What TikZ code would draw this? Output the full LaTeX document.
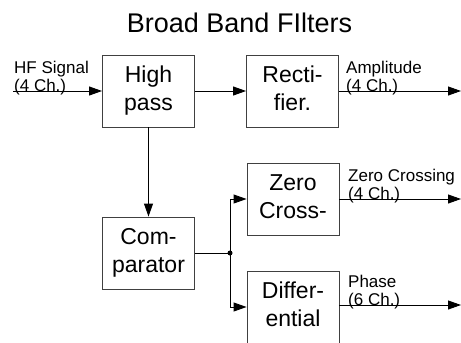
\documentclass[tikz,border=0pt]{standalone}
\usepackage{fontspec}
\setmainfont{Liberation Sans}
\usetikzlibrary{arrows.meta}
\begin{document}
\begin{tikzpicture}[x=1pt,y=-1pt,
  conn/.style={line width=0.9pt,draw=black},
  arr/.style={conn,-{Triangle[length=13pt,width=9pt]}},
  blockbox/.style={draw=black!75,line width=0.9pt,minimum width=92pt,minimum height=72pt,inner sep=0pt,align=center,font=\fontsize{23}{28}\selectfont},
  lbl/.style={anchor=north west,inner sep=0pt,align=left,font=\fontsize{17}{17}\selectfont}
]
\useasboundingbox (0,0) rectangle (461,343);
\node[anchor=base,inner sep=0pt,font=\fontsize{27}{32}\selectfont] (title) at (239.5,32) {Broad Band FIlters};
\node[blockbox] (hp) at (148.5,91) {High\strut\\pass\strut};
\node[blockbox] (rect) at (292.5,91) {Recti-\strut\\fier.\strut};
\node[blockbox] (comp) at (148.5,253) {Com-\strut\\parator\strut};
\node[blockbox] (zero) at (293,199) {Zero\strut\\Cross-\strut};
\node[blockbox] (diff) at (293,307) {Differ-\strut\\ential\strut};
\coordinate (in) at (13,91);
\coordinate (outA) at (461,91);
\coordinate (outZ) at (461,199);
\coordinate (outP) at (461,305);
\coordinate (j) at (230,253);
\node[lbl] (lhf) at (14,61) {HF Signal\strut\\(4 Ch.)\strut};
\node[lbl] (lamp) at (346,61) {Amplitude\strut\\(4 Ch.)\strut};
\node[lbl] (lzero) at (348,169) {Zero Crossing\strut\\(4 Ch.)\strut};
\node[lbl] (lph) at (348,275) {Phase\strut\\(6 Ch.)\strut};
\draw[arr] (in) -- (hp.west);
\draw[arr] (hp.east) -- (rect.west);
\draw[arr] (rect.east) -- (outA);
\draw[arr] (hp.south) -- (comp.north);
\draw[conn] (comp.east) -- (j);
\draw[arr] (j) |- (zero.west);
\draw[arr] (j) |- (diff.west);
\fill (j) circle (2.5pt);
\draw[arr] (zero.east) -- (outZ);
\draw[arr] (diff.east |- outP) -- (outP);
\end{tikzpicture}
\end{document}
